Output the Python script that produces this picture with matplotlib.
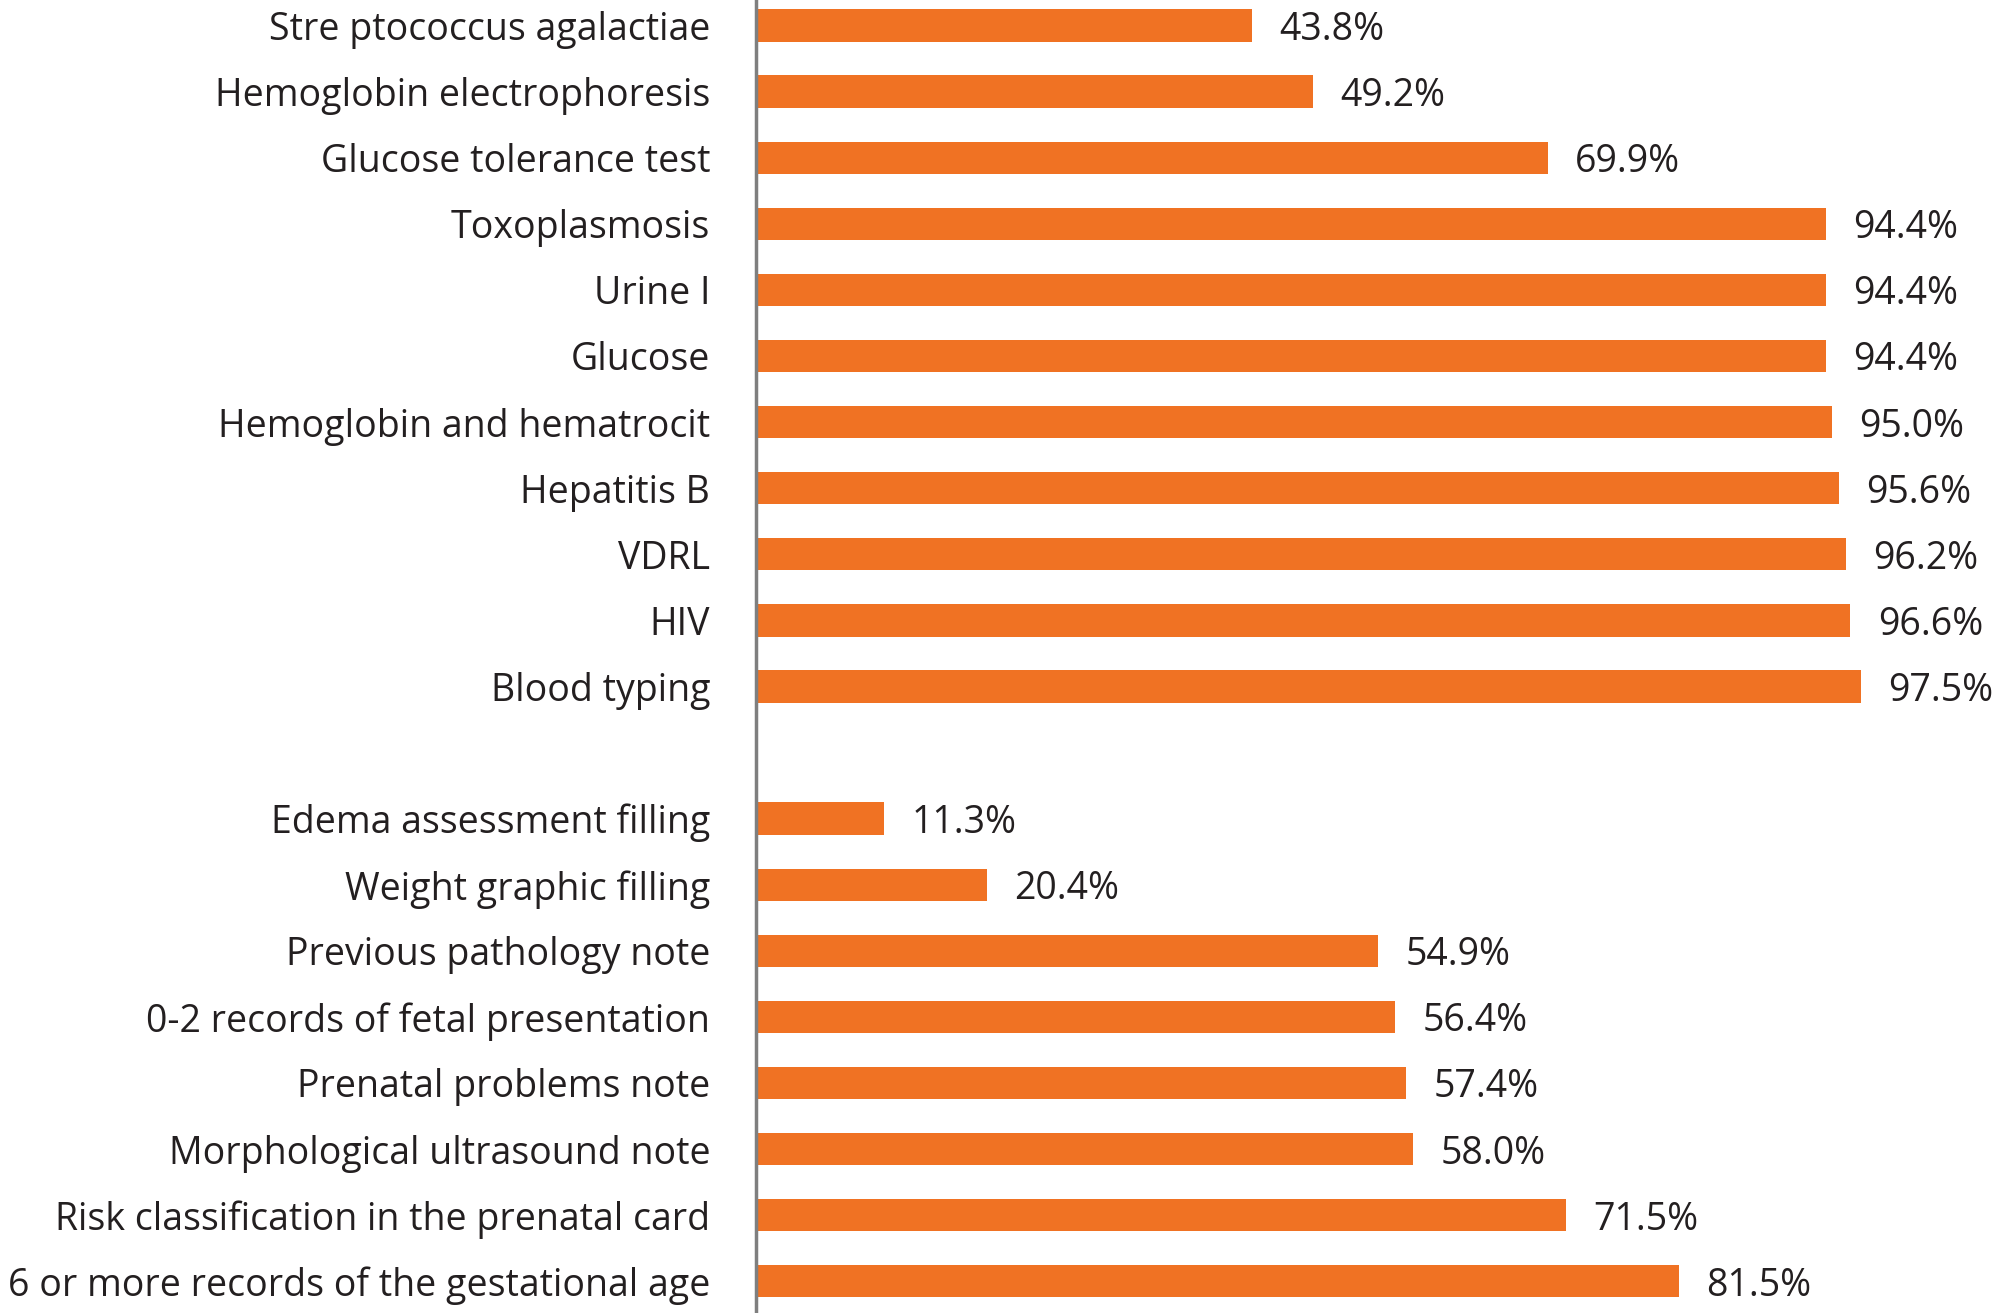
import matplotlib
matplotlib.use('Agg')
import matplotlib.pyplot as plt

plt.rcParams['font.family'] = ['Open Sans', 'DejaVu Sans']

# exams (top group)
exams = ['Stre ptococcus agalactiae', 'Hemoglobin electrophoresis', 'Glucose tolerance test',
         'Toxoplasmosis', 'Urine I', 'Glucose', 'Hemoglobin and hematrocit',
         'Hepatitis B', 'VDRL', 'HIV', 'Blood typing']
exam_vals = [43.8, 49.2, 69.9, 94.4, 94.4, 94.4, 95.0, 95.6, 96.2, 96.6, 97.5]

# card records (bottom group)
records = ['Edema assessment filling', 'Weight graphic filling', 'Previous pathology note',
           '0-2 records of fetal presentation', 'Prenatal problems note',
           'Morphological ultrasound note', 'Risk classification in the prenatal card',
           '6 or more records of the gestational age']
record_vals = [11.3, 20.4, 54.9, 56.4, 57.4, 58.0, 71.5, 81.5]

labels = exams + records
vals = exam_vals + record_vals
pos = list(range(len(exams))) + [len(exams) + 1 + i for i in range(len(records))]

orange = '#F07223'
txt = '#231F20'

fig = plt.figure(figsize=(20, 13.13), dpi=100)
ax = fig.add_axes([0.378, 0, 0.622, 1])
ax.barh(pos, vals, height=0.49, color=orange)
for p, v in zip(pos, vals):
    ax.text(v + 2.4, p, f'{v:.1f}%', va='center_baseline', ha='left', fontsize=27, color=txt)

ax.set_yticks(pos)
ax.set_yticklabels(labels, fontsize=27, color=txt)
ax.tick_params(axis='y', length=0, pad=33)
ax.set_xticks([])
ax.set_xlim(0, 109.8)
ax.set_ylim(19.48, -0.386)
for s in ['top', 'right', 'bottom']:
    ax.spines[s].set_visible(False)
ax.spines['left'].set_color('#7f7f7f')
ax.spines['left'].set_linewidth(2.5)

fig.savefig('out.png', dpi=100)
